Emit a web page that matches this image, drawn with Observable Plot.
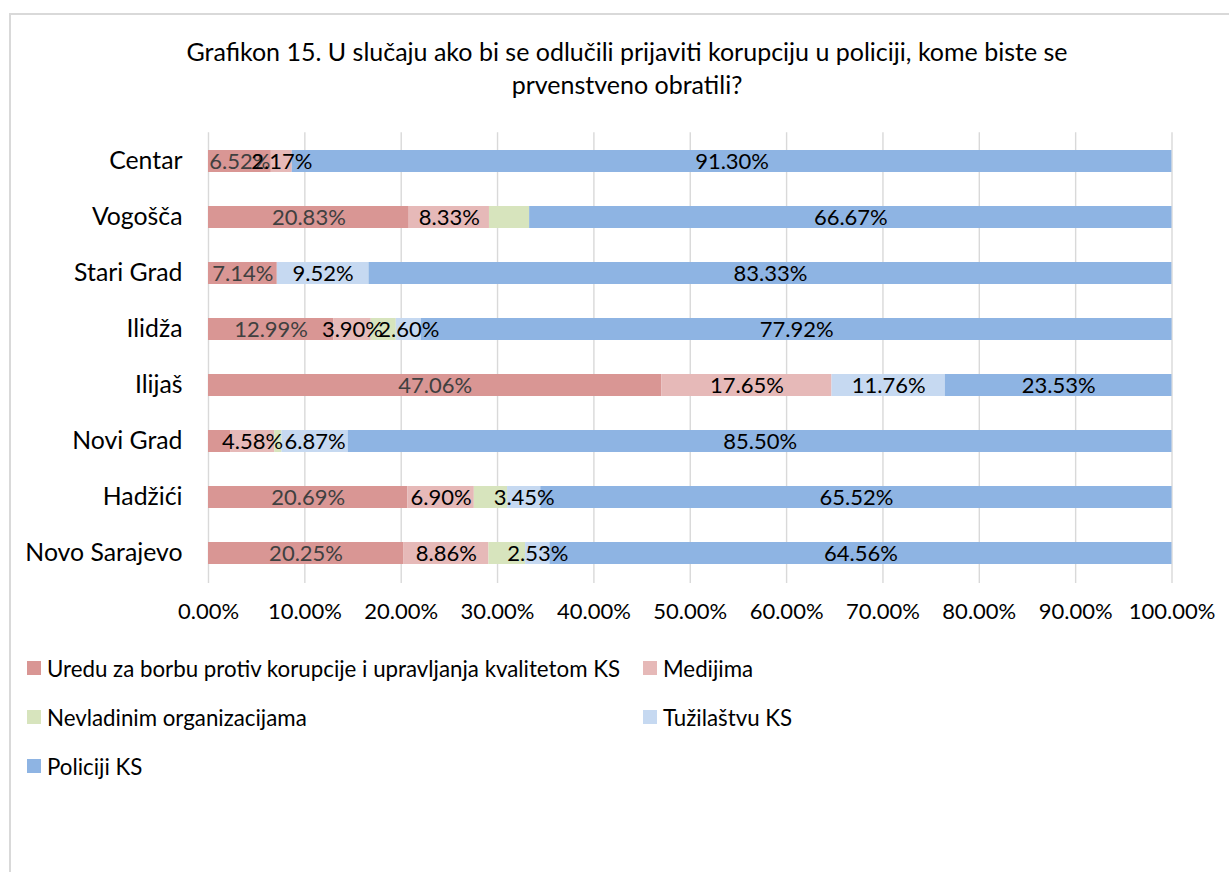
<!DOCTYPE html>
<html>
<head>
<meta charset="utf-8">
<script src="https://cdn.jsdelivr.net/npm/d3@7"></script>
<script src="https://cdn.jsdelivr.net/npm/@observablehq/plot@0.6"></script>
<style>
  html, body { margin: 0; padding: 0; background: #fff; }
  body { width: 1229px; height: 872px; position: relative; overflow: hidden; font-family: Lato, "Open Sans", sans-serif; color: #000; }
  #frame { position: absolute; left: 9px; top: 13px; width: 1400px; height: 1000px; border-left: 2px solid #d9d9d9; border-top: 2px solid #d9d9d9; }
  #title { position: absolute; left: 0; top: 35px; width: 1254px; text-align: center; font-size: 25px; line-height: 33px; }
  #chart { position: absolute; left: 0; top: 115px; }
  .lg { position: absolute; display: flex; align-items: center; font-size: 22.3px; white-space: nowrap; }
  .sw { width: 14px; height: 14px; margin-right: 6px; flex: none; }
</style>
</head>
<body>
<div id="frame"></div>
<div id="title">Grafikon 15. U slučaju ako bi se odlučili prijaviti korupciju u policiji, kome biste se<br>prvenstveno obratili?</div>
<div id="chart"></div>
<div id="legend"></div>
<script>
const categories = ["Centar", "Vogošča", "Stari Grad", "Ilidža", "Ilijaš", "Novi Grad", "Hadžići", "Novo Sarajevo"];
const seriesNames = [
  "Uredu za borbu protiv korupcije i upravljanja kvalitetom KS",
  "Medijima",
  "Nevladinim organizacijama",
  "Tužilaštvu KS",
  "Policiji KS"
];
const seriesColors = ["#d99694", "#e6b9b8", "#d7e4bd", "#c6d9f1", "#8eb4e3"];
const uredu      = [6.52, 20.83, 7.14, 12.99, 47.06, 2.29, 20.69, 20.25];
const medijima   = [2.17, 8.33, 0, 3.90, 17.65, 4.58, 6.90, 8.86];
const nevladinim = [0, 4.17, 0, 2.60, 0, 0.76, 3.45, 3.80];
const tuzilastvu = [0, 0, 9.52, 2.60, 11.76, 6.87, 3.45, 2.53];
const policiji   = [91.30, 66.67, 83.33, 77.92, 23.53, 85.50, 65.52, 64.56];
const seriesLabelled = [true, true, false, true, true];
const hiddenLabels = [["Novi Grad", 0]];
const xTicks = [0, 10, 20, 30, 40, 50, 60, 70, 80, 90, 100];

const seriesValues = [uredu, medijima, nevladinim, tuzilastvu, policiji];
const rows = [];
categories.forEach((cat, i) => {
  seriesValues.forEach((vals, s) => {
    const hidden = !seriesLabelled[s] || vals[i] === 0 || hiddenLabels.some(([c, k]) => c === cat && k === s);
    rows.push({cat, series: seriesNames[s], s, value: vals[i], label: hidden ? "" : vals[i].toFixed(2) + "%"});
  });
});

const W = 1229, H = 520;
const chart = Plot.plot({
  width: W,
  height: H,
  marginLeft: 208,
  marginRight: 57.5,
  marginTop: 17.3,
  marginBottom: 52.1,
  style: {fontFamily: "Lato, 'Open Sans', sans-serif", color: "#000", background: "transparent"},
  x: {domain: [0, 100], ticks: xTicks},
  y: {domain: categories, paddingInner: 0.6, paddingOuter: 0.3, align: 0.5},
  color: {domain: seriesNames, range: seriesColors},
  marks: [
    Plot.ruleX(xTicks, {stroke: "#d9d9d9", strokeWidth: 1.4}),
    Plot.barX(rows, {x: "value", y: "cat", z: "series", fill: "series", order: seriesNames, insetTop: 0, insetBottom: 0}),
    Plot.text(rows, Plot.stackX({x: "value", y: "cat", z: "series", order: seriesNames,
      text: d => d.s === 0 ? d.label : "", fill: "#404040", fontSize: 22})),
    Plot.text(rows, Plot.stackX({x: "value", y: "cat", z: "series", order: seriesNames,
      text: d => d.s !== 0 ? d.label : "", fill: "#000", fontSize: 22})),
    Plot.axisY({tickSize: 0, tickPadding: 26, fontSize: 24.8, label: null}),
    Plot.axisX({ticks: xTicks, tickSize: 0, tickPadding: 20, fontSize: 22, label: null,
      tickFormat: d => d.toFixed(2) + "%"})
  ]
});
document.getElementById("chart").appendChild(chart);

const legend = document.getElementById("legend");
const legendPos = [[27, 668], [643, 668], [27, 717], [643, 717], [27, 766]];
seriesNames.forEach((name, i) => {
  const item = document.createElement("div");
  item.className = "lg";
  item.style.left = legendPos[i][0] + "px";
  item.style.top = (legendPos[i][1] - 15) + "px";
  item.style.height = "30px";
  const sw = document.createElement("span");
  sw.className = "sw";
  sw.style.background = seriesColors[i];
  const tx = document.createElement("span");
  tx.textContent = name;
  item.appendChild(sw);
  item.appendChild(tx);
  legend.appendChild(item);
});
</script>
</body>
</html>
